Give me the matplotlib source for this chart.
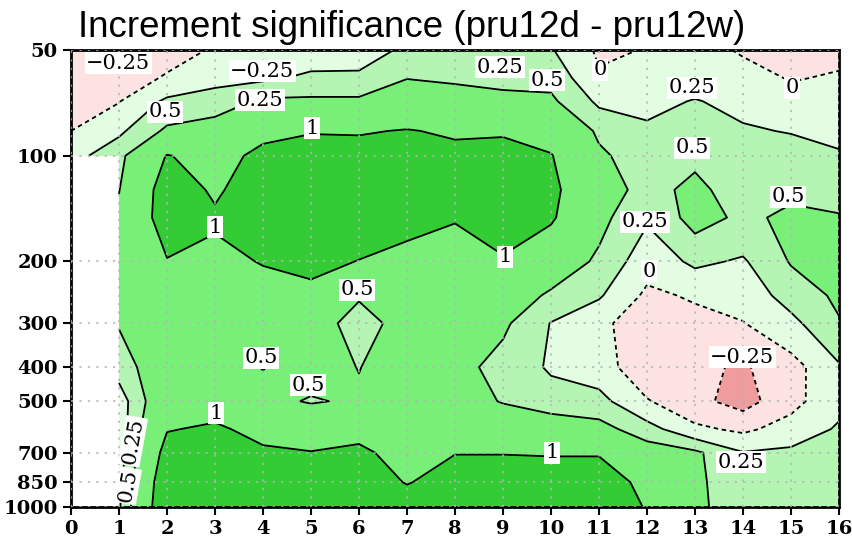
import numpy as np
import matplotlib
matplotlib.use("Agg")
import matplotlib.pyplot as plt
from matplotlib.ticker import NullLocator

plt.rcParams['lines.dashed_pattern'] = [2.5, 2.0]

# --- data ---
xs = np.arange(0, 17)
plev = [50, 60, 70, 85, 100, 125, 150, 200, 250, 300, 400, 500, 600, 700, 850, 1000]
nan = np.nan

# one list per x column, values from 50 hPa (top) down to 1000 hPa
c00 = [-0.22, -0.15, -0.08, 0.00, 0.15, nan, nan, nan, nan, nan, nan, nan, nan, nan, nan, nan]
c01 = [-0.18, -0.10, -0.01, 0.20, 0.42, 0.49, 0.56, 0.65, 0.62, 0.52, 0.35, 0.12, 0.10, 0.12, 0.18, 0.22]
c02 = [-0.08, 0.02, 0.30, 0.55, 1.02, 1.20, 1.20, 0.98, 0.85, 0.80, 0.75, 0.80, 0.98, 1.15, 1.30, 1.35]
c03 = [0.02, 0.18, 0.35, 0.65, 0.85, 0.95, 1.05, 0.90, 0.75, 0.70, 0.65, 0.85, 1.05, 1.20, 1.30, 1.35]
c04 = [0.05, 0.20, 0.55, 0.90, 1.10, 1.20, 1.20, 1.02, 0.85, 0.70, 0.49, 0.60, 0.90, 1.05, 1.20, 1.30]
c05 = [0.10, 0.30, 0.55, 0.98, 1.15, 1.25, 1.25, 1.10, 0.90, 0.60, 0.65, 0.47, 0.85, 1.01, 1.20, 1.30]
c06 = [0.12, 0.30, 0.55, 0.97, 1.15, 1.25, 1.20, 0.99, 0.52, 0.42, 0.49, 0.55, 0.92, 1.05, 1.20, 1.30]
c07 = [0.30, 0.49, 0.70, 1.02, 1.15, 1.20, 1.10, 0.90, 0.80, 0.58, 0.70, 0.72, 0.80, 0.90, 0.98, 1.20]
c08 = [0.30, 0.45, 0.65, 0.95, 1.10, 1.12, 1.02, 0.85, 0.75, 0.65, 0.60, 0.65, 0.80, 0.99, 1.15, 1.25]
c09 = [0.32, 0.45, 0.55, 0.97, 1.10, 1.15, 1.10, 0.98, 0.70, 0.55, 0.40, 0.48, 0.75, 0.99, 1.15, 1.20]
c10 = [0.27, 0.42, 0.55, 0.85, 1.02, 1.10, 1.05, 0.70, 0.45, 0.24, 0.22, 0.35, 0.70, 0.98, 1.15, 1.20]
c11 = [-0.04, 0.03, 0.20, 0.45, 0.55, 0.62, 0.58, 0.45, 0.28, 0.05, 0.12, 0.33, 0.60, 0.98, 1.15, 1.20]
c12 = [0.01, 0.12, 0.20, 0.28, 0.35, 0.42, 0.28, 0.10, -0.05, -0.12, -0.18, 0.02, 0.35, 0.65, 0.92, 0.98]
c13 = [0.10, 0.17, 0.26, 0.35, 0.45, 0.56, 0.60, 0.30, 0.03, -0.08, -0.20, -0.18, 0.05, 0.55, 0.55, 0.55]
c14 = [-0.03, 0.10, 0.20, 0.27, 0.32, 0.38, 0.45, 0.22, 0.10, -0.01, -0.28, -0.35, -0.05, 0.26, 0.35, 0.38]
c15 = [-0.15, -0.02, 0.10, 0.24, 0.33, 0.45, 0.55, 0.52, 0.35, 0.18, -0.10, -0.08, 0.10, 0.30, 0.38, 0.40]
c16 = [-0.08, 0.03, 0.12, 0.20, 0.27, 0.40, 0.52, 0.60, 0.55, 0.48, 0.22, 0.18, 0.28, 0.33, 0.35, 0.35]

cols = [c00, c01, c02, c03, c04, c05, c06, c07, c08, c09, c10, c11, c12, c13, c14, c15, c16]

# contour labels as they sit in the picture: text, x, pressure, rotation
lab_txt = ['\u22120.25', '\u22120.25', '0.25', '0.5', '1', '0.25', '0.5', '0', '0.25', '0',
           '0.5', '0.5', '0.25', '1', '1', '0', '0.5', '0.5', '0.5', '\u22120.25',
           '1', '1', '0.25', '0.25', '0.5']
lab_x = [0.98, 3.98, 3.94, 1.96, 5.02, 8.94, 9.92, 11.02, 12.94, 15.02,
         12.94, 14.94, 11.96, 3.0, 9.04, 12.04, 5.96, 3.96, 4.94, 13.98,
         3.02, 10.02, 13.96, 1.29, 1.19]
lab_p = [54.5, 57.5, 69.5, 75, 83.5, 56, 61, 57, 64, 64,
         95, 131, 154, 160, 194, 213, 241, 376, 450, 375,
         540, 700, 745, 650, 870]
lab_rot = [0] * 23 + [80, 80]

yt = [50, 100, 200, 300, 400, 500, 700, 850, 1000]

# --- plot ---
Z = np.ma.masked_invalid(np.array(cols).T)
levels = [-1, -0.25, 0, 0.25, 0.5, 1, 2]
fills = ['#f09c9c', '#fde2e2', '#e2fde2', '#b4f5b4', '#78f078', '#34cc34']

fig = plt.figure(figsize=(8.52, 5.37), dpi=100)
ax = fig.add_axes([71 / 852, 30 / 537, 768 / 852, 457 / 537])

ax.contourf(xs, plev, Z, levels=levels, colors=fills, corner_mask=False)
ax.contour(xs, plev, Z, levels=[-0.25, 0, 0.25, 0.5, 1], colors='k', corner_mask=False,
           linewidths=1.3, linestyles=['--', '--', '-', '-', '-'])

for t, x, p, r in zip(lab_txt, lab_x, lab_p, lab_rot):
    ax.text(x, p, t, ha='center', va='center', rotation=r, fontsize=15,
            family='DejaVu Serif', zorder=5,
            bbox=dict(facecolor='white', edgecolor='none', pad=1.0))

ax.set_yscale('log')
ax.set_ylim(1000, 50)
ax.set_xlim(0, 16)
ax.set_yticks(yt)
ax.set_yticklabels([str(v) for v in yt])
ax.yaxis.set_minor_locator(NullLocator())
ax.set_xticks(xs)
ax.set_xticklabels([str(v) for v in xs])

ax.set_axisbelow(False)
ax.grid(True, color='#b4b4b4', linestyle=(0, (1.5, 4)), linewidth=1.1)
for s in ax.spines.values():
    s.set_linewidth(2)
ax.tick_params(direction='out', length=6, width=1.5)
for lbl in ax.get_xticklabels() + ax.get_yticklabels():
    lbl.set_family('DejaVu Serif')
    lbl.set_weight('bold')
    lbl.set_fontsize(14)

fig.text(78 / 852, 1 - 37 / 537, 'Increment significance (pru12d - pru12w)',
         fontsize=26.5, family='Liberation Sans', ha='left', va='baseline')

fig.savefig('out.png', dpi=100)
